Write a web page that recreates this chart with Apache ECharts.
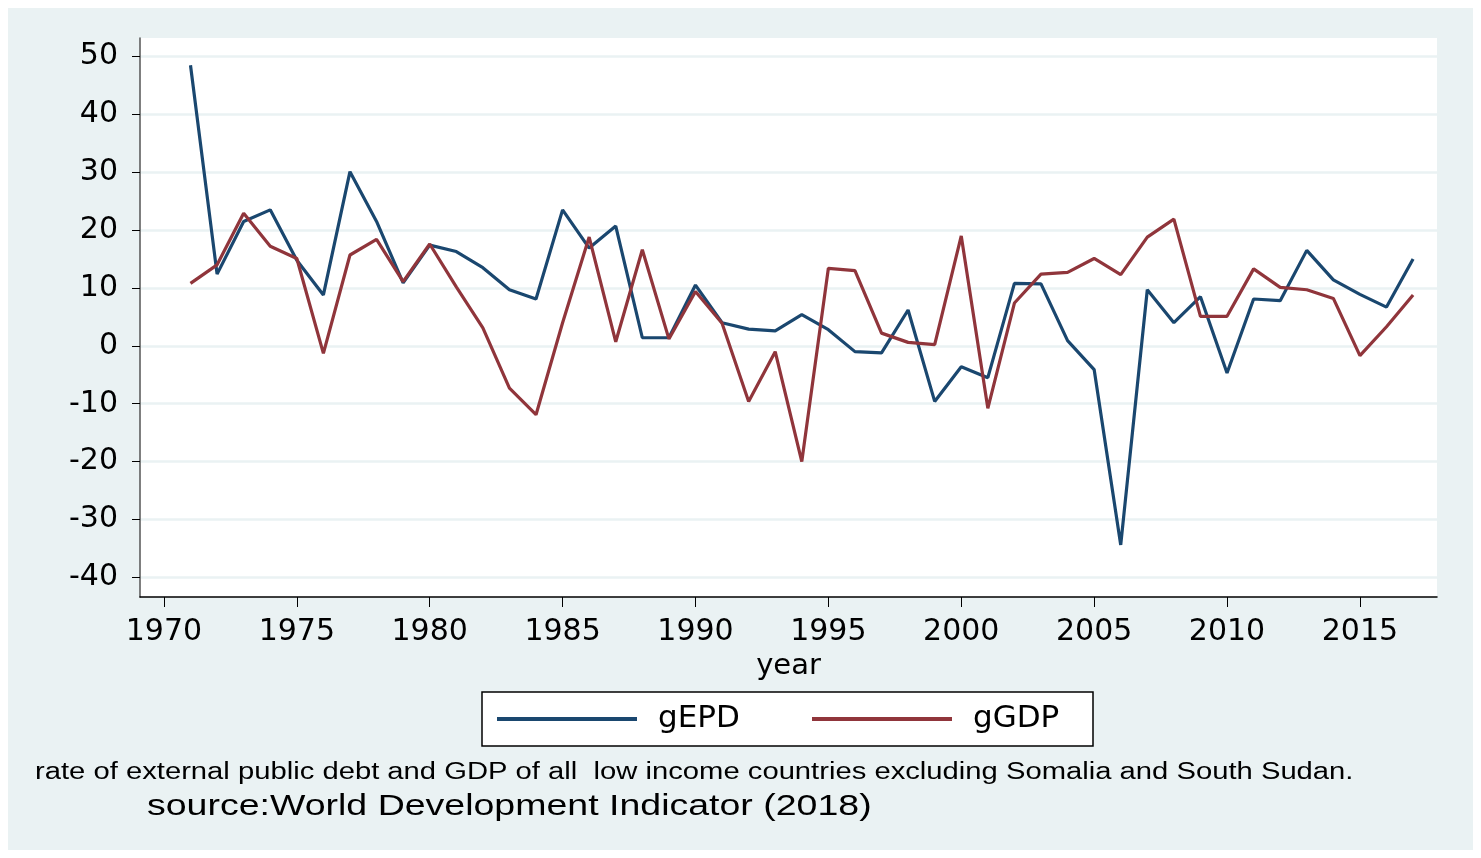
<!DOCTYPE html>
<html>
<head>
<meta charset="utf-8">
<script src="https://cdn.jsdelivr.net/npm/echarts@6/dist/echarts.min.js"></script>
<style>
html, body { margin: 0; padding: 0; background: #ffffff; }
#wrap { position: absolute; left: 8px; top: 8px; width: 1465px; height: 842px; background: #eaf2f3; }
#chart { position: absolute; left: -8px; top: -8px; width: 1481px; height: 858px; }
</style>
</head>
<body>
<div id="wrap"><div id="chart"></div></div>
<script>
var years = [1971, 1972, 1973, 1974, 1975, 1976, 1977, 1978, 1979, 1980,
    1981, 1982, 1983, 1984, 1985, 1986, 1987, 1988, 1989, 1990,
    1991, 1992, 1993, 1994, 1995, 1996, 1997, 1998, 1999, 2000,
    2001, 2002, 2003, 2004, 2005, 2006, 2007, 2008, 2009, 2010,
    2011, 2012, 2013, 2014, 2015, 2016, 2017];
var gEPD = [48.5, 12.4, 21.5, 23.5, 14.8, 8.8, 30.1, 21.5, 10.9, 17.4,
    16.3, 13.5, 9.7, 8.1, 23.5, 16.9, 20.7, 1.4, 1.4, 10.5,
    4.0, 2.9, 2.6, 5.4, 2.8, -1.0, -1.2, 6.2, -9.6, -3.6,
    -5.5, 10.8, 10.7, 0.9, -4.1, -34.4, 9.7, 4.0, 8.5, -4.7,
    8.1, 7.8, 16.5, 11.4, 8.9, 6.7, 15.0];
var gGDP = [10.8, 14.0, 22.9, 17.2, 15.1, -1.3, 15.7, 18.4, 11.1, 17.6,
    10.2, 3.1, -7.3, -11.9, 4.0, 18.8, 0.7, 16.6, 1.2, 9.4,
    3.9, -9.6, -1.0, -20.0, 13.4, 13.0, 2.2, 0.6, 0.2, 19.0,
    -10.8, 7.4, 12.4, 12.7, 15.1, 12.3, 18.8, 21.9, 5.1, 5.1,
    13.3, 10.1, 9.7, 8.2, -1.7, 3.3, 8.8];
var xTicks = [1970, 1975, 1980, 1985, 1990, 1995, 2000, 2005, 2010, 2015];
var yTicks = [-40, -30, -20, -10, 0, 10, 20, 30, 40, 50];

function pairs(v) {
    var out = [];
    for (var i = 0; i < years.length; i++) {
        out.push([years[i], v[i]]);
    }
    return out;
}

var font = "'Liberation Sans', Arial, sans-serif";
var wide = "'DejaVu Sans', sans-serif";
var chart = echarts.init(document.getElementById("chart"));
var option = {
    animation: false,
    backgroundColor: "transparent",
    grid: {
        left: 140,
        right: 44,
        top: 38,
        bottom: 261,
        show: true,
        backgroundColor: "#ffffff",
        borderWidth: 0
    },
    xAxis: {
        type: "value",
        min: 1969.1,
        max: 2017.9,
        name: "year",
        nameLocation: "middle",
        nameGap: 52,
        nameTextStyle: { fontFamily: wide, fontSize: 29, color: "#000" },
        axisLine: { show: true, onZero: false, lineStyle: { color: "#000", width: 1.5 } },
        axisTick: { show: true, length: 10, customValues: xTicks, lineStyle: { color: "#000" } },
        axisLabel: {
            customValues: xTicks,
            fontFamily: wide, fontSize: 30, color: "#000", margin: 20,
            formatter: function (v) { return String(v); }
        },
        splitLine: { show: false }
    },
    yAxis: {
        type: "value",
        min: -43.4,
        max: 53.2,
        axisLine: { show: true, onZero: false, lineStyle: { color: "#555", width: 1.5 } },
        axisTick: { show: true, length: 8, customValues: yTicks, lineStyle: { color: "#000" } },
        axisLabel: {
            customValues: yTicks,
            fontFamily: wide, fontSize: 30, color: "#000", margin: 22
        },
        splitLine: { show: true, lineStyle: { color: "#eaf2f3", width: 2.5 } }
    },
    legend: {
        left: 482,
        top: 692,
        padding: [11, 25, 11, 15],
        itemGap: 59,
        itemWidth: 140,
        itemHeight: 4,
        icon: "rect",
        backgroundColor: "#ffffff",
        borderColor: "#000",
        borderWidth: 1.5,
        borderRadius: 0,
        textStyle: {
            fontFamily: wide, fontSize: 31, lineHeight: 32, color: "#000",
            width: 95, padding: [0, 0, 0, 16]
        },
        data: ["gEPD", "gGDP"]
    },
    graphic: [{
        type: "text",
        x: 35,
        y: 761,
        scaleX: 1.27,
        style: {
            text: "rate of external public debt and GDP of all  low income countries excluding Somalia and South Sudan.",
            font: "23px " + font,
            fill: "#000"
        }
    }, {
        type: "text",
        x: 147,
        y: 792,
        scaleX: 1.25,
        style: {
            text: "source:World Development Indicator (2018)",
            font: "30px " + font,
            fill: "#000"
        }
    }],
    series: [{
        name: "gEPD",
        type: "line",
        data: pairs(gEPD),
        symbol: "none",
        lineStyle: { color: "#1a476f", width: 3.2 },
        itemStyle: { color: "#1a476f" }
    }, {
        name: "gGDP",
        type: "line",
        data: pairs(gGDP),
        symbol: "none",
        lineStyle: { color: "#90353b", width: 3.2 },
        itemStyle: { color: "#90353b" }
    }]
};
chart.setOption(option);
window.addEventListener("resize", function () {
    chart.resize();
});
</script>
</body>
</html>
